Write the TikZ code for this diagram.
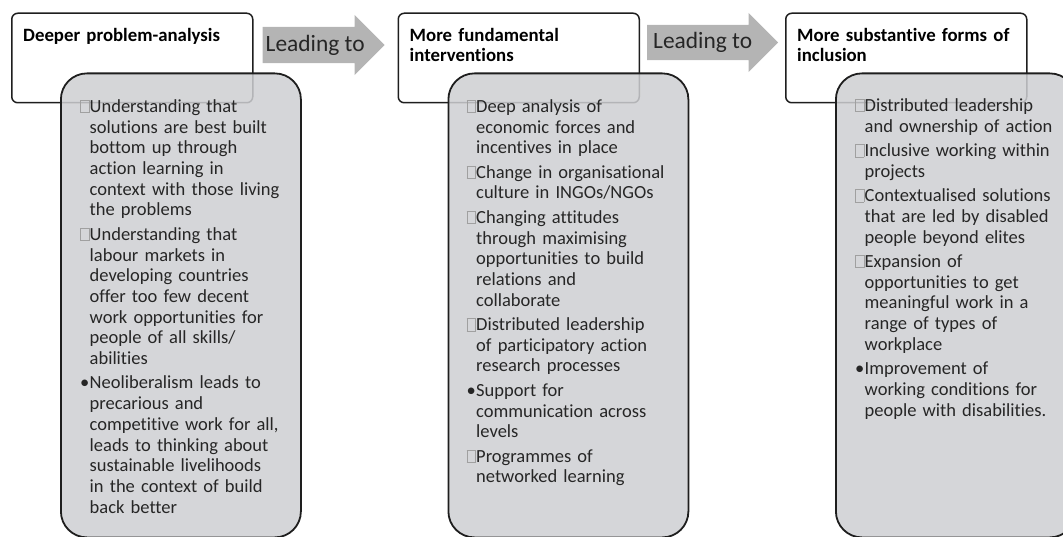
\documentclass[tikz,border=0pt]{standalone}
\usepackage{fontspec}
\setmainfont{Carlito}[Ligatures=NoCommon]
\usepackage{tikz}
\usetikzlibrary{shapes.arrows, positioning}

\definecolor{linedark}{RGB}{30,30,30}
\definecolor{boxgray}{RGB}{206,207,210}
\definecolor{arrowgray}{RGB}{180,180,180}
\definecolor{textdark}{RGB}{38,38,38}
\definecolor{markgray}{RGB}{160,160,160}

% list marks used inside the grey boxes
\newcommand{\sqmark}{{\color{markgray}\fboxrule=0.6pt\fboxsep=0pt\fbox{\rule{0pt}{12pt}\hspace{8pt}}}}
\newcommand{\sqitem}{\hangindent=9.5pt\hangafter=1\noindent\makebox[9.5pt][l]{\sqmark}}
\newcommand{\dotitem}{\hangindent=9.5pt\hangafter=1\noindent\makebox[9.5pt][l]{\textbullet}}
\newcommand{\nextitem}{\par\vspace{3.7pt}}

\begin{document}
\begin{tikzpicture}[
    x=1pt, y=-1pt,
    head/.style={draw=linedark, line width=1.5pt, rounded corners=6pt, fill=white, minimum width=241pt, minimum height=89.5pt, inner sep=0pt},
    detail/.style={draw=linedark, line width=1.8pt, rounded corners=26pt, fill=boxgray, fill opacity=0.85, minimum width=240pt, minimum height=464pt, inner sep=0pt},
    lead/.style={single arrow, fill=arrowgray, single arrow head extend=12pt, inner sep=0pt, anchor=tail},
    leadtext/.style={anchor=west, inner sep=0pt, text=textdark, font=\fontsize{23.4pt}{26pt}\selectfont},
    headtext/.style={anchor=base west, inner sep=0pt, text width=222pt, align=left, text=black, font=\fontsize{18.8pt}{20pt}\selectfont\bfseries},
    itemtext/.style={anchor=base west, inner sep=0pt, text width=215pt, align=left, text=textdark, font=\fontsize{18.5pt}{20.7pt}\selectfont}
]
    \useasboundingbox (0,0) rectangle (1063,537);

    % header boxes
    \node[head, anchor=north west] (head1) at (11,12.5) {};
    \node[head, right=144pt of head1] (head2) {};
    \node[head, right=145pt of head2] (head3) {};

    \node[headtext] (htxt1) at ([shift={(12,29)}]head1.north west) {Deeper problem-analysis};
    \node[headtext] (htxt2) at ([shift={(12,29)}]head2.north west) {More fundamental\newline interventions};
    \node[headtext] (htxt3) at ([shift={(12,29)}]head3.north west) {More substantive forms of\newline inclusion};

    % block arrows between the headers
    \node[lead, minimum height=122pt, text height=18pt, text depth=18pt] (lead1) at ([shift={(9,32.5)}]head1.north east) {};
    \node[lead, minimum height=131pt, text height=17.5pt, text depth=17.5pt] (lead2) at ([shift={(7,30)}]head2.north east) {};
    \node[leadtext] (ltxt1) at ([xshift=3pt]lead1.tail) {Leading to};
    \node[leadtext] (ltxt2) at ([xshift=6pt]lead2.tail) {Leading to};

    % grey detail boxes, laid over the headers
    \node[detail, below right=60pt and 49pt of head1.north west] (det1) {};
    \node[detail, below right=60pt and 50pt of head2.north west] (det2) {};
    \node[detail, below right=60pt and 50pt of head3.north west] (det3) {};

    \node[itemtext] (txt1) at ([shift={(20,40)}]det1.north west) {%
        \sqitem Understanding that\newline solutions are best built\newline bottom up through\newline action learning in\newline context with those living\newline the problems
        \nextitem\sqitem Understanding that\newline labour markets in\newline developing countries\newline offer too few decent\newline work opportunities for\newline people of all skills/\newline abilities
        \nextitem\dotitem Neoliberalism leads to\newline precarious and\newline competitive work for all,\newline leads to thinking about\newline sustainable livelihoods\newline in the context of build\newline back better\par};

    \node[itemtext] (txt2) at ([shift={(19,40)}]det2.north west) {%
        \sqitem Deep analysis of\newline economic forces and\newline incentives in place
        \nextitem\sqitem Change in organisational\newline culture in INGOs/NGOs
        \nextitem\sqitem Changing attitudes\newline through maximising\newline opportunities to build\newline relations and\newline collaborate
        \nextitem\sqitem Distributed leadership\newline of participatory action\newline research processes
        \nextitem\dotitem Support for\newline communication across\newline levels
        \nextitem\sqitem Programmes of\newline networked learning\par};

    \node[itemtext] (txt3) at ([shift={(20,39)}]det3.north west) {%
        \sqitem Distributed leadership\newline and ownership of action
        \nextitem\sqitem Inclusive working within\newline projects
        \nextitem\sqitem Contextualised solutions\newline that are led by disabled\newline people beyond elites
        \nextitem\sqitem Expansion of\newline opportunities to get\newline meaningful work in a\newline range of types of\newline workplace
        \nextitem\dotitem Improvement of\newline working conditions for\newline people with disabilities.\par};
\end{tikzpicture}
\end{document}
